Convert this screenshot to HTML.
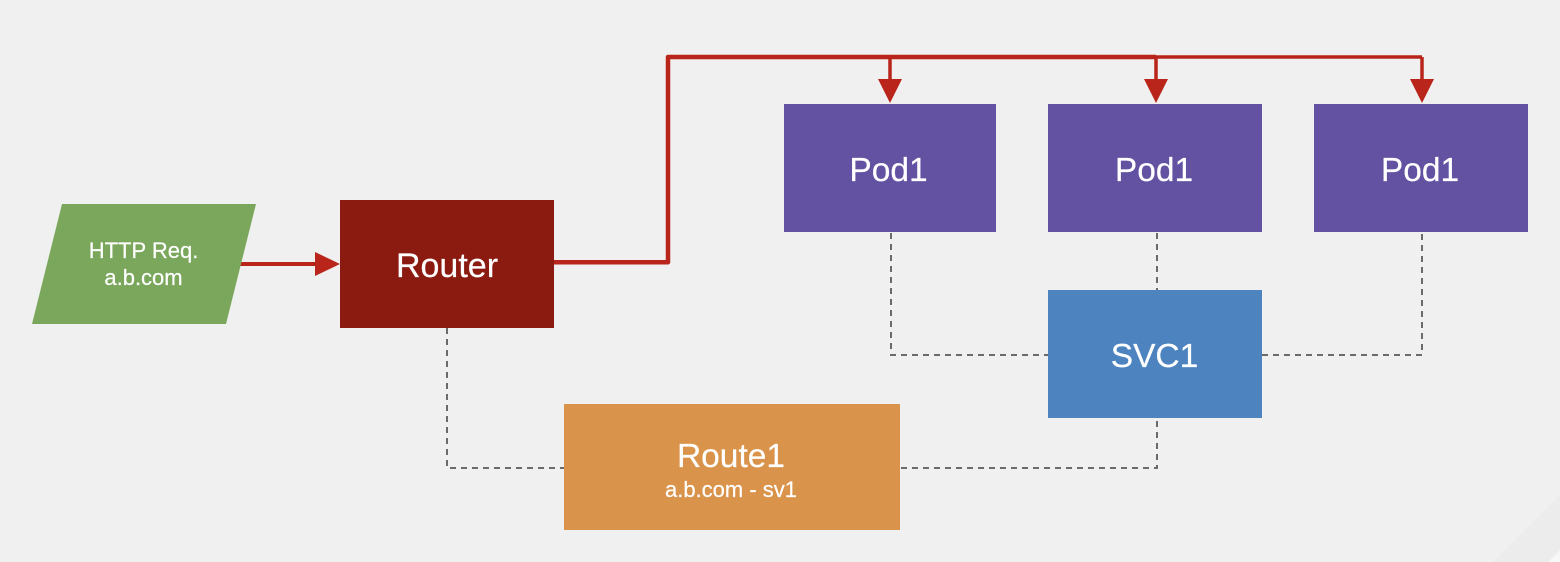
<!DOCTYPE html>
<html lang="en">
<head>
<meta charset="utf-8">
<title>Router to Pods Diagram</title>
<style>
html,body{margin:0;padding:0;width:1560px;height:562px;overflow:hidden;background:#f0f0f0}
svg{display:block}
text{font-family:"Liberation Sans",sans-serif;fill:#fff;text-anchor:middle;stroke:#fff;stroke-width:0.2}
</style>
</head>
<body>
<svg width="1560" height="562" viewBox="0 0 1560 562" xmlns="http://www.w3.org/2000/svg">
  <rect x="0" y="0" width="1560" height="562" fill="#f0f0f0"/>
  <polygon points="1493,562 1560,495 1560,562" fill="#ececec"/>
  <polygon points="1548,562 1560,550 1560,562" fill="#f7f7f7"/>

  <g fill="none" stroke="#6b6b6b" stroke-width="2" stroke-dasharray="6 5">
    <path d="M891 233V355H1048"/>
    <path d="M1157 233V290"/>
    <path d="M1262 355H1422V233"/>
    <path d="M447 328V468H564"/>
    <path d="M1157 421V468H900"/>
  </g>

  <g fill="none" stroke="#b9251b">
    <path d="M240 264H316" stroke-width="4"/>
    <path d="M554 262.300H668V57H1156" stroke-width="4.500" stroke-linejoin="round"/>
    <path d="M1156 57H1422" stroke-width="3.500"/>
    <path d="M890 57V80" stroke-width="3.500"/>
    <path d="M1156 57V80" stroke-width="3.500"/>
    <path d="M1422 57V80" stroke-width="3.500"/>
  </g>
  <g fill="#b9251b">
    <polygon points="315,252 340,264 315,276"/>
    <polygon points="878,79 902,79 890,103"/>
    <polygon points="1144,79 1168,79 1156,103"/>
    <polygon points="1410,79 1434,79 1422,103"/>
  </g>

  <g>
    <polygon points="62,204 256,204 226,324 32,324" fill="#7ba75c"/>
    <text x="143.500" y="258" font-size="22">HTTP Req.</text>
    <text x="143.500" y="285" font-size="22">a.b.com</text>
  </g>

  <g>
    <rect x="340" y="200" width="214" height="128" fill="#8b1a10"/>
    <text x="447" y="277" font-size="34">Router</text>
  </g>

  <g>
    <rect x="784" y="104" width="212" height="128" fill="#6351a1"/>
    <text x="888.500" y="181" font-size="33.500">Pod1</text>
  </g>
  <g>
    <rect x="1048" y="104" width="214" height="128" fill="#6351a1"/>
    <text x="1154" y="181" font-size="33.500">Pod1</text>
  </g>
  <g>
    <rect x="1314" y="104" width="214" height="128" fill="#6351a1"/>
    <text x="1420" y="181" font-size="33.500">Pod1</text>
  </g>

  <g>
    <rect x="1048" y="290" width="214" height="128" fill="#4d84c0"/>
    <text x="1154.500" y="367" font-size="33.500">SVC1</text>
  </g>

  <g>
    <rect x="564" y="404" width="336" height="126" fill="#da934b"/>
    <text x="731" y="467" font-size="33.500">Route1</text>
    <text x="731" y="497" font-size="22">a.b.com - sv1</text>
  </g>
</svg>
</body>
</html>
